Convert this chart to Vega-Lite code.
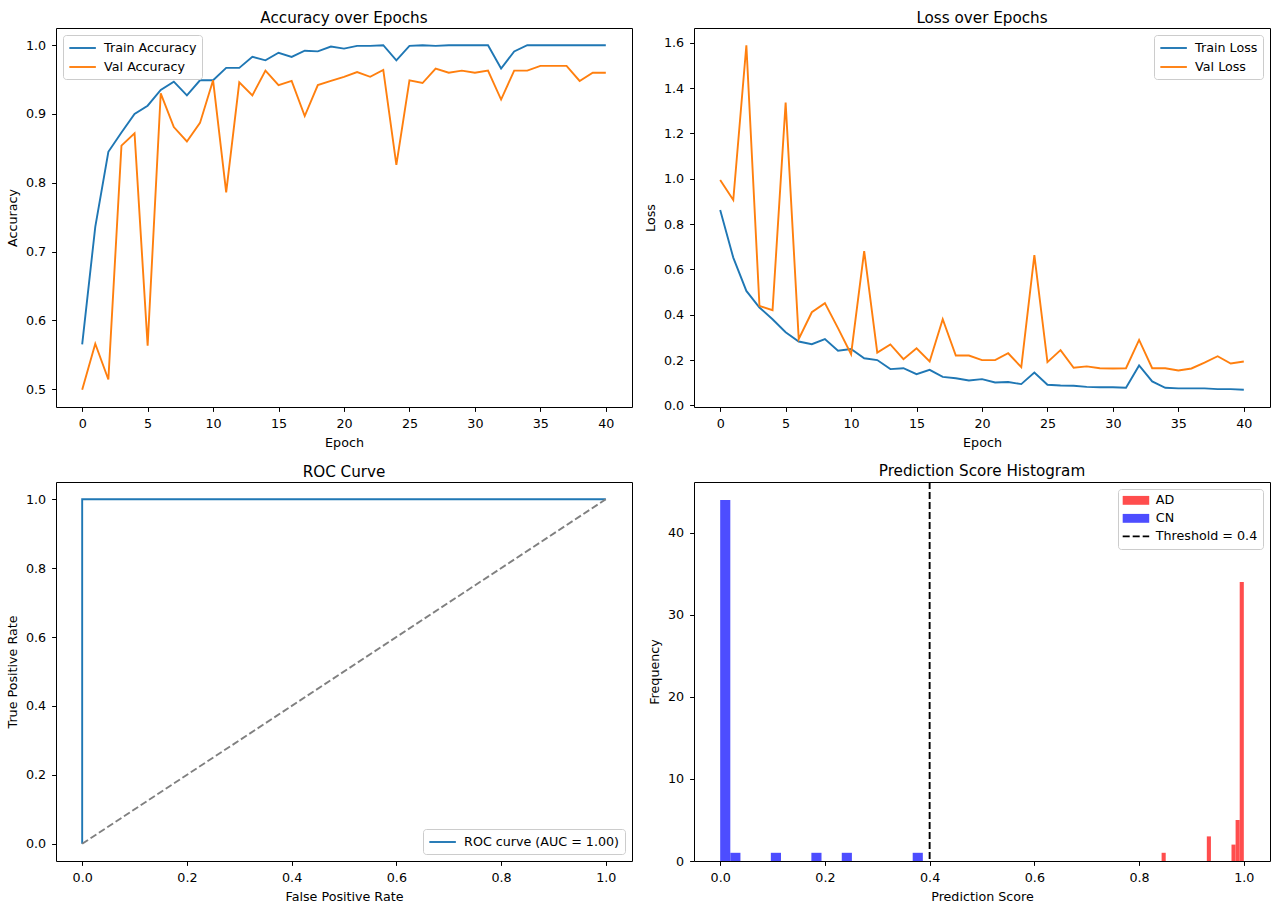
{
  "$schema": "https://vega.github.io/schema/vega-lite/v6.json",
  "background": "white",
  "padding": {"left": 5, "top": 10, "right": 5, "bottom": 5},
  "config": {
    "font": "DejaVu Sans",
    "view": {"stroke": "black", "strokeWidth": 1, "fill": "white"},
    "axis": {
      "domain": false, "grid": false, "ticks": true,
      "tickColor": "black", "tickSize": 4.4, "tickWidth": 1,
      "labelFont": "DejaVu Sans", "labelFontSize": 12.7, "labelColor": "black", "labelPadding": 6,
      "labelFlush": false, "labelOverlap": false,
      "titleFont": "DejaVu Sans", "titleFontSize": 12.7, "titleFontWeight": "normal", "titleColor": "black", "titlePadding": 6
    },
    "title": {"font": "DejaVu Sans", "fontSize": 15.2, "fontWeight": "normal", "color": "black", "anchor": "middle", "offset": 2},
    "legend": {
      "strokeColor": "#cccccc", "strokeWidth": 1, "fillColor": "white", "cornerRadius": 3,
      "padding": 5, "offset": 6.6,
      "labelFont": "DejaVu Sans", "labelFontSize": 12.7, "labelColor": "black",
      "symbolType": "M-2,0H2", "symbolSize": 176, "symbolOffset": 6.6, "labelOffset": 13.5,
      "symbolStrokeWidth": 1.9, "rowPadding": 4
    }
  },
  "datasets": {
    "epochs": [
      {"epoch": 0, "Train Accuracy": 0.565, "Val Accuracy": 0.499, "Train Loss": 0.862, "Val Loss": 0.994},
      {"epoch": 1, "Train Accuracy": 0.736, "Val Accuracy": 0.566, "Train Loss": 0.652, "Val Loss": 0.906},
      {"epoch": 2, "Train Accuracy": 0.845, "Val Accuracy": 0.514, "Train Loss": 0.505, "Val Loss": 1.589},
      {"epoch": 3, "Train Accuracy": 0.873, "Val Accuracy": 0.854, "Train Loss": 0.432, "Val Loss": 0.439},
      {"epoch": 4, "Train Accuracy": 0.900, "Val Accuracy": 0.872, "Train Loss": 0.380, "Val Loss": 0.420},
      {"epoch": 5, "Train Accuracy": 0.912, "Val Accuracy": 0.563, "Train Loss": 0.323, "Val Loss": 1.336},
      {"epoch": 6, "Train Accuracy": 0.935, "Val Accuracy": 0.930, "Train Loss": 0.282, "Val Loss": 0.293},
      {"epoch": 7, "Train Accuracy": 0.947, "Val Accuracy": 0.881, "Train Loss": 0.270, "Val Loss": 0.411},
      {"epoch": 8, "Train Accuracy": 0.927, "Val Accuracy": 0.860, "Train Loss": 0.293, "Val Loss": 0.451},
      {"epoch": 9, "Train Accuracy": 0.949, "Val Accuracy": 0.887, "Train Loss": 0.241, "Val Loss": 0.341},
      {"epoch": 10, "Train Accuracy": 0.949, "Val Accuracy": 0.949, "Train Loss": 0.249, "Val Loss": 0.226},
      {"epoch": 11, "Train Accuracy": 0.967, "Val Accuracy": 0.786, "Train Loss": 0.208, "Val Loss": 0.681},
      {"epoch": 12, "Train Accuracy": 0.967, "Val Accuracy": 0.946, "Train Loss": 0.200, "Val Loss": 0.233},
      {"epoch": 13, "Train Accuracy": 0.983, "Val Accuracy": 0.927, "Train Loss": 0.160, "Val Loss": 0.269},
      {"epoch": 14, "Train Accuracy": 0.978, "Val Accuracy": 0.963, "Train Loss": 0.164, "Val Loss": 0.204},
      {"epoch": 15, "Train Accuracy": 0.989, "Val Accuracy": 0.942, "Train Loss": 0.138, "Val Loss": 0.252},
      {"epoch": 16, "Train Accuracy": 0.983, "Val Accuracy": 0.948, "Train Loss": 0.157, "Val Loss": 0.194},
      {"epoch": 17, "Train Accuracy": 0.992, "Val Accuracy": 0.897, "Train Loss": 0.126, "Val Loss": 0.380},
      {"epoch": 18, "Train Accuracy": 0.991, "Val Accuracy": 0.942, "Train Loss": 0.120, "Val Loss": 0.220},
      {"epoch": 19, "Train Accuracy": 0.998, "Val Accuracy": 0.948, "Train Loss": 0.110, "Val Loss": 0.220},
      {"epoch": 20, "Train Accuracy": 0.995, "Val Accuracy": 0.954, "Train Loss": 0.116, "Val Loss": 0.200},
      {"epoch": 21, "Train Accuracy": 0.999, "Val Accuracy": 0.961, "Train Loss": 0.101, "Val Loss": 0.200},
      {"epoch": 22, "Train Accuracy": 0.999, "Val Accuracy": 0.954, "Train Loss": 0.103, "Val Loss": 0.230},
      {"epoch": 23, "Train Accuracy": 1.000, "Val Accuracy": 0.964, "Train Loss": 0.094, "Val Loss": 0.169},
      {"epoch": 24, "Train Accuracy": 0.978, "Val Accuracy": 0.826, "Train Loss": 0.145, "Val Loss": 0.663},
      {"epoch": 25, "Train Accuracy": 0.999, "Val Accuracy": 0.949, "Train Loss": 0.091, "Val Loss": 0.191},
      {"epoch": 26, "Train Accuracy": 1.000, "Val Accuracy": 0.945, "Train Loss": 0.088, "Val Loss": 0.244},
      {"epoch": 27, "Train Accuracy": 0.999, "Val Accuracy": 0.966, "Train Loss": 0.087, "Val Loss": 0.166},
      {"epoch": 28, "Train Accuracy": 1.000, "Val Accuracy": 0.960, "Train Loss": 0.082, "Val Loss": 0.172},
      {"epoch": 29, "Train Accuracy": 1.000, "Val Accuracy": 0.963, "Train Loss": 0.080, "Val Loss": 0.164},
      {"epoch": 30, "Train Accuracy": 1.000, "Val Accuracy": 0.960, "Train Loss": 0.080, "Val Loss": 0.163},
      {"epoch": 31, "Train Accuracy": 1.000, "Val Accuracy": 0.963, "Train Loss": 0.078, "Val Loss": 0.164},
      {"epoch": 32, "Train Accuracy": 0.966, "Val Accuracy": 0.921, "Train Loss": 0.176, "Val Loss": 0.289},
      {"epoch": 33, "Train Accuracy": 0.991, "Val Accuracy": 0.963, "Train Loss": 0.106, "Val Loss": 0.164},
      {"epoch": 34, "Train Accuracy": 1.000, "Val Accuracy": 0.963, "Train Loss": 0.078, "Val Loss": 0.164},
      {"epoch": 35, "Train Accuracy": 1.000, "Val Accuracy": 0.970, "Train Loss": 0.075, "Val Loss": 0.154},
      {"epoch": 36, "Train Accuracy": 1.000, "Val Accuracy": 0.970, "Train Loss": 0.075, "Val Loss": 0.163},
      {"epoch": 37, "Train Accuracy": 1.000, "Val Accuracy": 0.970, "Train Loss": 0.075, "Val Loss": 0.189},
      {"epoch": 38, "Train Accuracy": 1.000, "Val Accuracy": 0.948, "Train Loss": 0.072, "Val Loss": 0.217},
      {"epoch": 39, "Train Accuracy": 1.000, "Val Accuracy": 0.960, "Train Loss": 0.072, "Val Loss": 0.185},
      {"epoch": 40, "Train Accuracy": 1.000, "Val Accuracy": 0.960, "Train Loss": 0.069, "Val Loss": 0.194}
    ],
    "roc": [
      {"curve": "ROC curve (AUC = 1.00)", "fpr": 0, "tpr": 0},
      {"curve": "ROC curve (AUC = 1.00)", "fpr": 0, "tpr": 1},
      {"curve": "ROC curve (AUC = 1.00)", "fpr": 1, "tpr": 1}
    ],
    "chance": [
      {"fpr": 0, "tpr": 0},
      {"fpr": 1, "tpr": 1}
    ],
    "hist": [
      {"label": "CN", "bin_start": 0.0, "bin_end": 0.01935, "count": 44},
      {"label": "CN", "bin_start": 0.01935, "bin_end": 0.0387, "count": 1},
      {"label": "CN", "bin_start": 0.09675, "bin_end": 0.1161, "count": 1},
      {"label": "CN", "bin_start": 0.17415, "bin_end": 0.1935, "count": 1},
      {"label": "CN", "bin_start": 0.2322, "bin_end": 0.25155, "count": 1},
      {"label": "CN", "bin_start": 0.36765, "bin_end": 0.387, "count": 1},
      {"label": "AD", "bin_start": 0.843, "bin_end": 0.85085, "count": 1},
      {"label": "AD", "bin_start": 0.92935, "bin_end": 0.9372, "count": 3},
      {"label": "AD", "bin_start": 0.97645, "bin_end": 0.9843, "count": 2},
      {"label": "AD", "bin_start": 0.9843, "bin_end": 0.99215, "count": 5},
      {"label": "AD", "bin_start": 0.99215, "bin_end": 1.0, "count": 34}
    ],
    "threshold": [
      {"label": "Threshold = 0.4", "score": 0.4}
    ]
  },
  "columns": 2,
  "spacing": {"row": 75, "column": 62},
  "bounds": "flush",
  "resolve": {
    "scale": {"x": "independent", "y": "independent", "color": "independent"},
    "legend": {"color": "independent"}
  },
  "concat": [
    {
      "title": "Accuracy over Epochs",
      "width": 576, "height": 379,
      "data": {"name": "epochs"},
      "transform": [{"fold": ["Train Accuracy", "Val Accuracy"], "as": ["series", "value"]}],
      "mark": {"type": "line", "strokeWidth": 1.9, "clip": true},
      "encoding": {
        "x": {"field": "epoch", "type": "quantitative",
              "scale": {"domain": [-2, 42], "nice": false, "zero": false},
              "axis": {"title": "Epoch", "values": [0, 5, 10, 15, 20, 25, 30, 35, 40]}},
        "y": {"field": "value", "type": "quantitative",
              "scale": {"domain": [0.474, 1.025], "nice": false, "zero": false},
              "axis": {"title": "Accuracy", "values": [0.5, 0.6, 0.7, 0.8, 0.9, 1.0], "format": ".1f"}},
        "color": {"field": "series", "type": "nominal",
                  "scale": {"domain": ["Train Accuracy", "Val Accuracy"], "range": ["#1f77b4", "#ff7f0e"]},
                  "legend": {"title": null, "orient": "top-left"}}
      }
    },
    {
      "title": "Loss over Epochs",
      "width": 576, "height": 379,
      "data": {"name": "epochs"},
      "transform": [{"fold": ["Train Loss", "Val Loss"], "as": ["series", "value"]}],
      "mark": {"type": "line", "strokeWidth": 1.9, "clip": true},
      "encoding": {
        "x": {"field": "epoch", "type": "quantitative",
              "scale": {"domain": [-2, 42], "nice": false, "zero": false},
              "axis": {"title": "Epoch", "values": [0, 5, 10, 15, 20, 25, 30, 35, 40]}},
        "y": {"field": "value", "type": "quantitative",
              "scale": {"domain": [-0.007, 1.665], "nice": false, "zero": false},
              "axis": {"title": "Loss", "values": [0, 0.2, 0.4, 0.6, 0.8, 1.0, 1.2, 1.4, 1.6], "format": ".1f"}},
        "color": {"field": "series", "type": "nominal",
                  "scale": {"domain": ["Train Loss", "Val Loss"], "range": ["#1f77b4", "#ff7f0e"]},
                  "legend": {"title": null, "orient": "top-right"}}
      }
    },
    {
      "title": "ROC Curve",
      "width": 576, "height": 379,
      "layer": [
        {
          "data": {"name": "roc"},
          "mark": {"type": "line", "strokeWidth": 1.9},
          "encoding": {
            "x": {"field": "fpr", "type": "quantitative",
                  "scale": {"domain": [-0.05, 1.05], "nice": false, "zero": false},
                  "axis": {"title": "False Positive Rate", "values": [0, 0.2, 0.4, 0.6, 0.8, 1.0], "format": ".1f"}},
            "y": {"field": "tpr", "type": "quantitative",
                  "scale": {"domain": [-0.05, 1.05], "nice": false, "zero": false},
                  "axis": {"title": "True Positive Rate", "values": [0, 0.2, 0.4, 0.6, 0.8, 1.0], "format": ".1f"}},
            "order": {"value": null},
            "color": {"field": "curve", "type": "nominal",
                      "scale": {"range": ["#1f77b4"]},
                      "legend": {"title": null, "orient": "bottom-right"}}
          }
        },
        {
          "data": {"name": "chance"},
          "mark": {"type": "line", "color": "gray", "strokeDash": [7, 3], "strokeWidth": 1.9},
          "encoding": {
            "x": {"field": "fpr", "type": "quantitative"},
            "y": {"field": "tpr", "type": "quantitative"}
          }
        }
      ]
    },
    {
      "title": "Prediction Score Histogram",
      "width": 576, "height": 379,
      "layer": [
        {
          "data": {"name": "hist"},
          "mark": {"type": "bar"},
          "encoding": {
            "x": {"field": "bin_start", "type": "quantitative",
                  "scale": {"domain": [-0.05, 1.05], "nice": false, "zero": false},
                  "axis": {"title": "Prediction Score", "values": [0, 0.2, 0.4, 0.6, 0.8, 1.0], "format": ".1f"}},
            "x2": {"field": "bin_end"},
            "y": {"field": "count", "type": "quantitative",
                  "scale": {"domain": [0, 46.2], "nice": false},
                  "axis": {"title": "Frequency", "values": [0, 10, 20, 30, 40], "format": "d"}},
            "y2": {"datum": 0},
            "color": {"field": "label", "type": "nominal",
                      "scale": {"domain": ["AD", "CN", "Threshold = 0.4"], "range": ["#ff4d4d", "#4d4dff", "#000000"]},
                      "legend": {
                        "title": null, "orient": "top-right",
                        "encode": {
                          "symbols": {
                            "update": {
                              "shape": {"signal": "datum.value === 'Threshold = 0.4' ? 'M-2,0H2' : 'M-2,-0.67H2V0.67H-2Z'"},
                              "stroke": {"signal": "datum.value === 'Threshold = 0.4' ? '#000000' : 'transparent'"},
                              "fill": {"signal": "datum.value === 'AD' ? '#ff4d4d' : datum.value === 'CN' ? '#4d4dff' : 'transparent'"},
                              "strokeWidth": {"signal": "datum.value === 'Threshold = 0.4' ? 1.9 : 0"},
                              "strokeDash": {"value": [7, 3]},
                              "opacity": {"value": 1}
                            }
                          }
                        }
                      }}
          }
        },
        {
          "data": {"name": "threshold"},
          "mark": {"type": "rule", "strokeDash": [7, 3], "strokeWidth": 1.9},
          "encoding": {
            "x": {"field": "score", "type": "quantitative"},
            "color": {"field": "label", "type": "nominal"}
          }
        }
      ]
    }
  ]
}
